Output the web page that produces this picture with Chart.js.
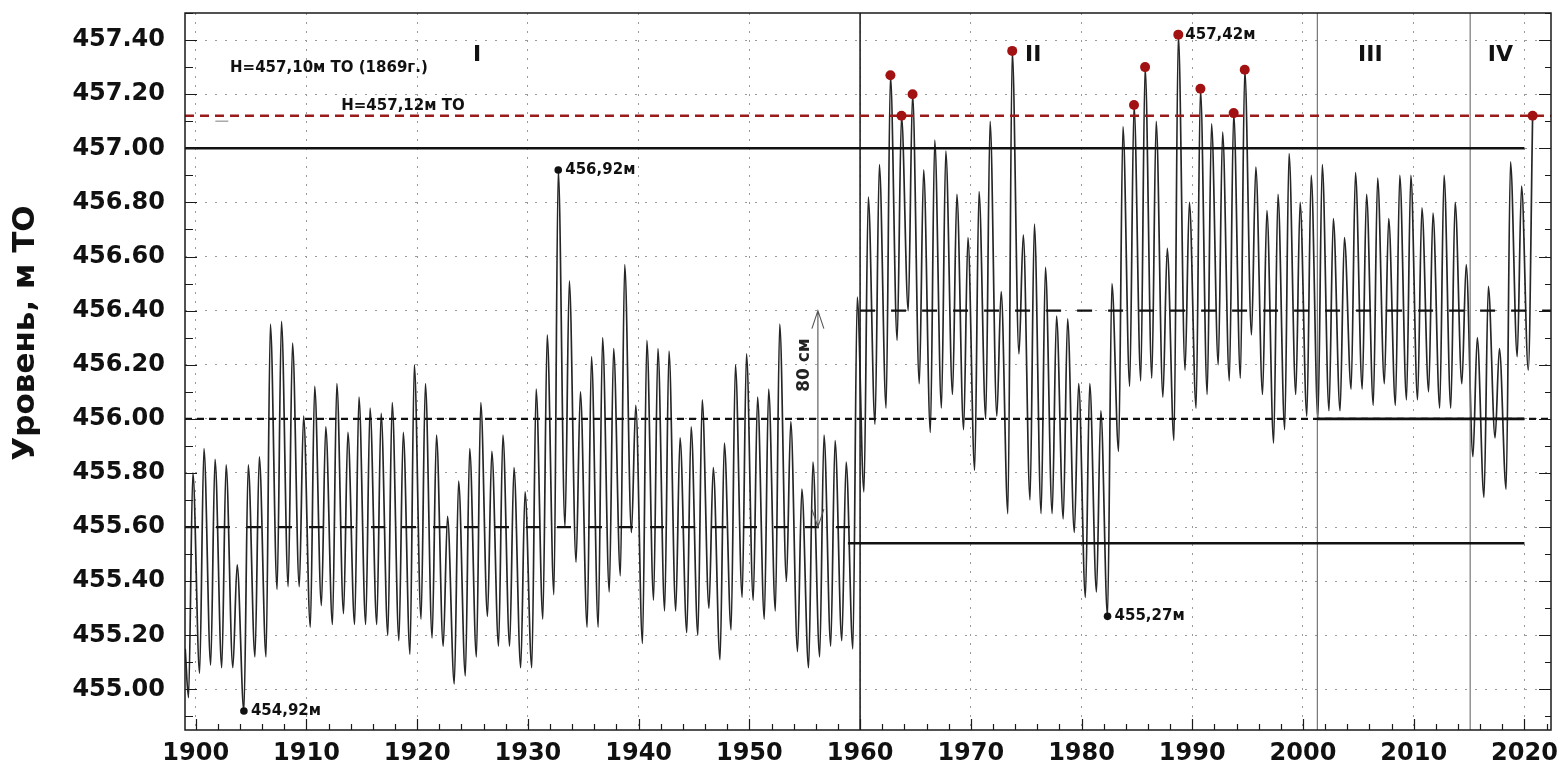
<!DOCTYPE html>
<html lang="ru">
<head>
<meta charset="utf-8">
<title>Уровень озера Байкал</title>
<script src="https://cdn.jsdelivr.net/npm/chart.js@4.4.1/dist/chart.umd.min.js"></script>
<style>
  html, body { margin: 0; padding: 0; background: #fff; }
  #wrap { width: 1565px; height: 767px; }
</style>
</head>
<body>
<div id="wrap"><canvas id="chart" width="1565" height="767"></canvas></div>
<script>
// Годовые минимумы (весна) и максимумы (осень), м ТО
const firstYear = 1899;
const springMin = [
  454.97, 455.06, 455.09, 455.08, 455.08, 454.92, 455.12, 455.12, 455.37, 455.38,
  455.38, 455.23, 455.31, 455.24, 455.28, 455.24, 455.24, 455.24, 455.20, 455.18,
  455.13, 455.26, 455.19, 455.16, 455.02, 455.05, 455.12, 455.27, 455.16, 455.16,
  455.08, 455.08, 455.26, 455.35, 455.60, 455.47, 455.23, 455.23, 455.36, 455.42,
  455.58, 455.17, 455.33, 455.29, 455.29, 455.21, 455.20, 455.30, 455.11, 455.22,
  455.34, 455.33, 455.26, 455.29, 455.40, 455.14, 455.08, 455.12, 455.16, 455.18,
  455.15, 455.73, 455.98, 456.04, 456.29, 456.40, 456.13, 455.95, 456.04, 456.09,
  455.96, 455.81, 456.00, 456.01, 455.65, 456.24, 455.70, 455.65, 455.65, 455.63,
  455.58, 455.34, 455.36, 455.27, 455.88, 456.12, 456.14, 456.15, 456.08, 455.92,
  456.18, 456.04, 456.09, 456.20, 456.14, 456.15, 456.31, 456.09, 455.91, 455.96,
  456.09, 456.01, 456.00, 456.03, 456.03, 456.11, 456.11, 456.05, 456.13, 456.05,
  456.07, 456.07, 456.10, 456.04, 456.04, 456.13, 455.86, 455.71, 455.93, 455.74,
  456.23, 456.18
];
const autumnMax = [
  455.80, 455.89, 455.85, 455.83, 455.46, 455.83, 455.86, 456.35, 456.36, 456.28,
  456.01, 456.12, 455.97, 456.13, 455.95, 456.08, 456.04, 456.02, 456.06, 455.95,
  456.20, 456.13, 455.94, 455.64, 455.77, 455.89, 456.06, 455.88, 455.94, 455.82,
  455.73, 456.11, 456.31, 456.92, 456.51, 456.10, 456.23, 456.30, 456.26, 456.57,
  456.05, 456.29, 456.26, 456.25, 455.93, 455.97, 456.07, 455.82, 455.91, 456.20,
  456.24, 456.08, 456.11, 456.35, 455.99, 455.74, 455.84, 455.94, 455.92, 455.84,
  456.45, 456.82, 456.94, 457.27, 457.12, 457.20, 456.92, 457.03, 456.99, 456.83,
  456.67, 456.84, 457.10, 456.47, 457.36, 456.68, 456.72, 456.56, 456.38, 456.37,
  456.13, 456.13, 456.03, 456.50, 457.08, 457.16, 457.30, 457.10, 456.63, 457.42,
  456.80, 457.22, 457.09, 457.06, 457.13, 457.29, 456.93, 456.77, 456.83, 456.98,
  456.80, 456.90, 456.94, 456.74, 456.67, 456.91, 456.83, 456.89, 456.74, 456.90,
  456.90, 456.78, 456.76, 456.90, 456.80, 456.57, 456.30, 456.49, 456.26, 456.95,
  456.86, 457.12
];
const startLevel = 455.15;

const xTicks = [1900, 1910, 1920, 1930, 1940, 1950, 1960, 1970, 1980, 1990, 2000, 2010, 2020];
const yTicks = [455.00, 455.20, 455.40, 455.60, 455.80, 456.00, 456.20, 456.40, 456.60, 456.80, 457.00, 457.20, 457.40];

// отметки уровней и границы периодов
const level1869 = 457.10;
const levelMax = 457.12;
const levelUpper = 457.00;
const levelMeanLate = 456.40;
const levelLower = 456.00;
const levelMeanEarly = 455.60;
const levelMinLate = 455.54;
const regimeYears = [1960, 2001.3, 2015.1];
const lastYear = 2020;
const romanLabels = ['I', 'II', 'III', 'IV'];
const markedPoints = [[1904, 'min'], [1932, 'max'], [1982, 'min'], [1988, 'max']];

const X_MIN = 1899.03, X_MAX = 2022.4, Y_MIN = 454.85, Y_MAX = 457.5;
const FONT = 'DejaVu Sans';

// ряд уровня
const series = [{ x: firstYear + 0.05, y: startLevel }];
springMin.forEach((v, i) => {
  const yr = firstYear + i;
  series.push({ x: yr + 0.35, y: v });
  series.push({ x: yr + 0.74, y: autumnMax[i] });
});

const redDots = [];
autumnMax.forEach((v, i) => {
  if (v >= levelMax) redDots.push({ x: firstYear + i + 0.74, y: v });
});

const labelled = markedPoints.map(([yr, kind]) => {
  const i = yr - firstYear;
  return kind === 'min'
    ? { x: yr + 0.35, y: springMin[i] }
    : { x: yr + 0.74, y: autumnMax[i] };
});
const blackDots = labelled.filter(p => p.y < levelMax);

function hline(y, from, to) {
  return [{ x: from, y: y }, { x: to, y: y }];
}
function vline(x) {
  return [{ x: x, y: Y_MIN }, { x: x, y: Y_MAX }];
}
function ref(data, color, width, dash) {
  return {
    data: data, borderColor: color, borderWidth: width, borderDash: dash || [],
    pointRadius: 0, tension: 0, fill: false
  };
}

const datasets = [
  { data: redDots, showLine: false, pointRadius: 5, pointBackgroundColor: '#a31212', pointBorderWidth: 0 },
  { data: blackDots, showLine: false, pointRadius: 3.8, pointBackgroundColor: '#111', pointBorderWidth: 0 },
  ref(hline(levelMax, X_MIN, X_MAX), '#9b1a1a', 2.6, [9, 6]),
  ref(hline(levelUpper, X_MIN, lastYear), '#111', 2.6),
  ref(hline(levelLower, regimeYears[1], lastYear), '#111', 2.6),
  ref(hline(levelMinLate, 1958.9, lastYear), '#111', 2.4),
  ref(hline(levelMeanLate, regimeYears[0], X_MAX), '#111', 2.4, [15, 16]),
  ref(hline(levelMeanEarly, X_MIN, regimeYears[0]), '#111', 2.4, [14, 17]),
  ref(hline(levelLower, X_MIN, X_MAX), '#111', 2.2, [7, 5]),
  ref(hline(level1869, 1901.77, 1902.94), '#aaa', 1.5),
  ref(vline(regimeYears[0]), '#222', 1.6),
  ref(vline(regimeYears[1]), '#777', 1.2),
  ref(vline(regimeYears[2]), '#777', 1.2),
  {
    data: series, borderColor: '#262626', borderWidth: 1.7, pointRadius: 0,
    cubicInterpolationMode: 'monotone', fill: false
  }
];

const notes = [
  { text: 'H=457,10м ТО (1869г.)', x: 1903.1, y: 457.297, size: 15, align: 'left' },
  { text: 'H=457,12м ТО', x: 1913.14, y: 457.157, size: 15, align: 'left' },
  { text: romanLabels[0], x: 1925.4, y: 457.345, size: 22, align: 'center' },
  { text: romanLabels[1], x: 1975.64, y: 457.345, size: 22, align: 'center' },
  { text: romanLabels[2], x: 2006.08, y: 457.345, size: 22, align: 'center' },
  { text: romanLabels[3], x: 2017.83, y: 457.345, size: 22, align: 'center' }
];

const decor = {
  id: 'decor',
  afterDatasetsDraw(chart) {
    const { ctx, chartArea: a, scales: { x, y } } = chart;
    ctx.save();
    // рамка
    ctx.strokeStyle = '#1a1a1a';
    ctx.lineWidth = 1.5;
    ctx.strokeRect(a.left, a.top, a.right - a.left, a.bottom - a.top);

    // внутренние засечки
    ctx.lineWidth = 1.2;
    for (let k = Math.ceil(y.min * 10); k <= Math.floor(y.max * 10); k++) {
      const py = Math.round(y.getPixelForValue(k / 10)) + 0.5;
      const major = k % 2 === 0;
      ctx.beginPath();
      ctx.moveTo(a.left, py); ctx.lineTo(a.left + (major ? 12 : 8), py);
      ctx.moveTo(a.right, py); ctx.lineTo(a.right - (major ? 12 : 6), py);
      ctx.stroke();
    }
    for (let yr = Math.ceil(x.min / 2) * 2; yr <= x.max; yr += 2) {
      const px = Math.round(x.getPixelForValue(yr)) + 0.5;
      ctx.beginPath();
      ctx.moveTo(px, a.bottom); ctx.lineTo(px, a.bottom - (yr % 10 === 0 ? 11 : 6));
      ctx.stroke();
    }

    // стрелка 80 см
    const ax = x.getPixelForValue(1956.19);
    const top = y.getPixelForValue(levelMeanLate);
    const bot = y.getPixelForValue(levelMeanEarly);
    ctx.strokeStyle = '#555';
    ctx.lineWidth = 1.1;
    ctx.beginPath();
    ctx.moveTo(ax, top); ctx.lineTo(ax, bot);
    ctx.moveTo(ax - 6, top + 18); ctx.lineTo(ax, top); ctx.lineTo(ax + 6, top + 18);
    ctx.moveTo(ax - 6, bot - 18); ctx.lineTo(ax, bot); ctx.lineTo(ax + 6, bot - 18);
    ctx.stroke();

    ctx.fillStyle = '#222';
    ctx.save();
    ctx.translate(x.getPixelForValue(1954.97), y.getPixelForValue(456.199));
    ctx.rotate(-Math.PI / 2);
    ctx.font = 'bold 17px "' + FONT + '"';
    ctx.textAlign = 'center';
    ctx.textBaseline = 'middle';
    ctx.fillText('80 см', 0, 0);
    ctx.restore();

    // подписи
    ctx.fillStyle = '#111';
    ctx.textBaseline = 'middle';
    notes.forEach(n => {
      ctx.font = 'bold ' + n.size + 'px "' + FONT + '"';
      ctx.textAlign = n.align;
      ctx.fillText(n.text, x.getPixelForValue(n.x), y.getPixelForValue(n.y));
    });

    ctx.font = 'bold 15px "' + FONT + '"';
    ctx.textAlign = 'left';
    labelled.forEach(p => {
      const txt = p.y.toFixed(2).replace('.', ',') + 'м';
      ctx.fillText(txt, x.getPixelForValue(p.x) + 7, y.getPixelForValue(p.y));
    });

    // подпись оси Y
    ctx.save();
    ctx.translate(26, 333);
    ctx.rotate(-Math.PI / 2);
    ctx.font = 'bold 31px "' + FONT + '"';
    ctx.textAlign = 'center';
    ctx.fillText('Уровень, м ТО', 0, 0);
    ctx.restore();

    ctx.restore();
  }
};

const tickFont = { family: FONT, weight: 'bold', size: 24 };

new Chart(document.getElementById('chart'), {
  type: 'line',
  data: { datasets: datasets },
  options: {
    responsive: false,
    animation: false,
    layout: { padding: { top: 13, right: 14, bottom: 0, left: 0 } },
    plugins: { legend: { display: false }, tooltip: { enabled: false } },
    scales: {
      x: {
        type: 'linear',
        min: X_MIN,
        max: X_MAX,
        afterBuildTicks: s => { s.ticks = xTicks.map(v => ({ value: v })); },
        afterFit: s => {
          s.height = 37;
          s.paddingLeft = 0; s.paddingRight = 0;
        },
        ticks: {
          font: tickFont, color: '#111', padding: 9, maxRotation: 0, autoSkip: false,
          callback: v => String(v)
        },
        grid: { color: '#9a9a9a', lineWidth: 1, drawTicks: false },
        border: { display: false, dash: [2, 7] }
      },
      y: {
        type: 'linear',
        min: Y_MIN,
        max: Y_MAX,
        afterBuildTicks: s => { s.ticks = yTicks.map(v => ({ value: v })); },
        afterFit: s => {
          s.width = 185;
          s.paddingTop = 0; s.paddingBottom = 0;
        },
        ticks: {
          font: tickFont, color: '#111', padding: 20,
          callback: v => v.toFixed(2)
        },
        grid: { color: '#9a9a9a', lineWidth: 1, drawTicks: false },
        border: { display: false, dash: [2, 8] }
      }
    }
  },
  plugins: [decor]
});
</script>
</body>
</html>
